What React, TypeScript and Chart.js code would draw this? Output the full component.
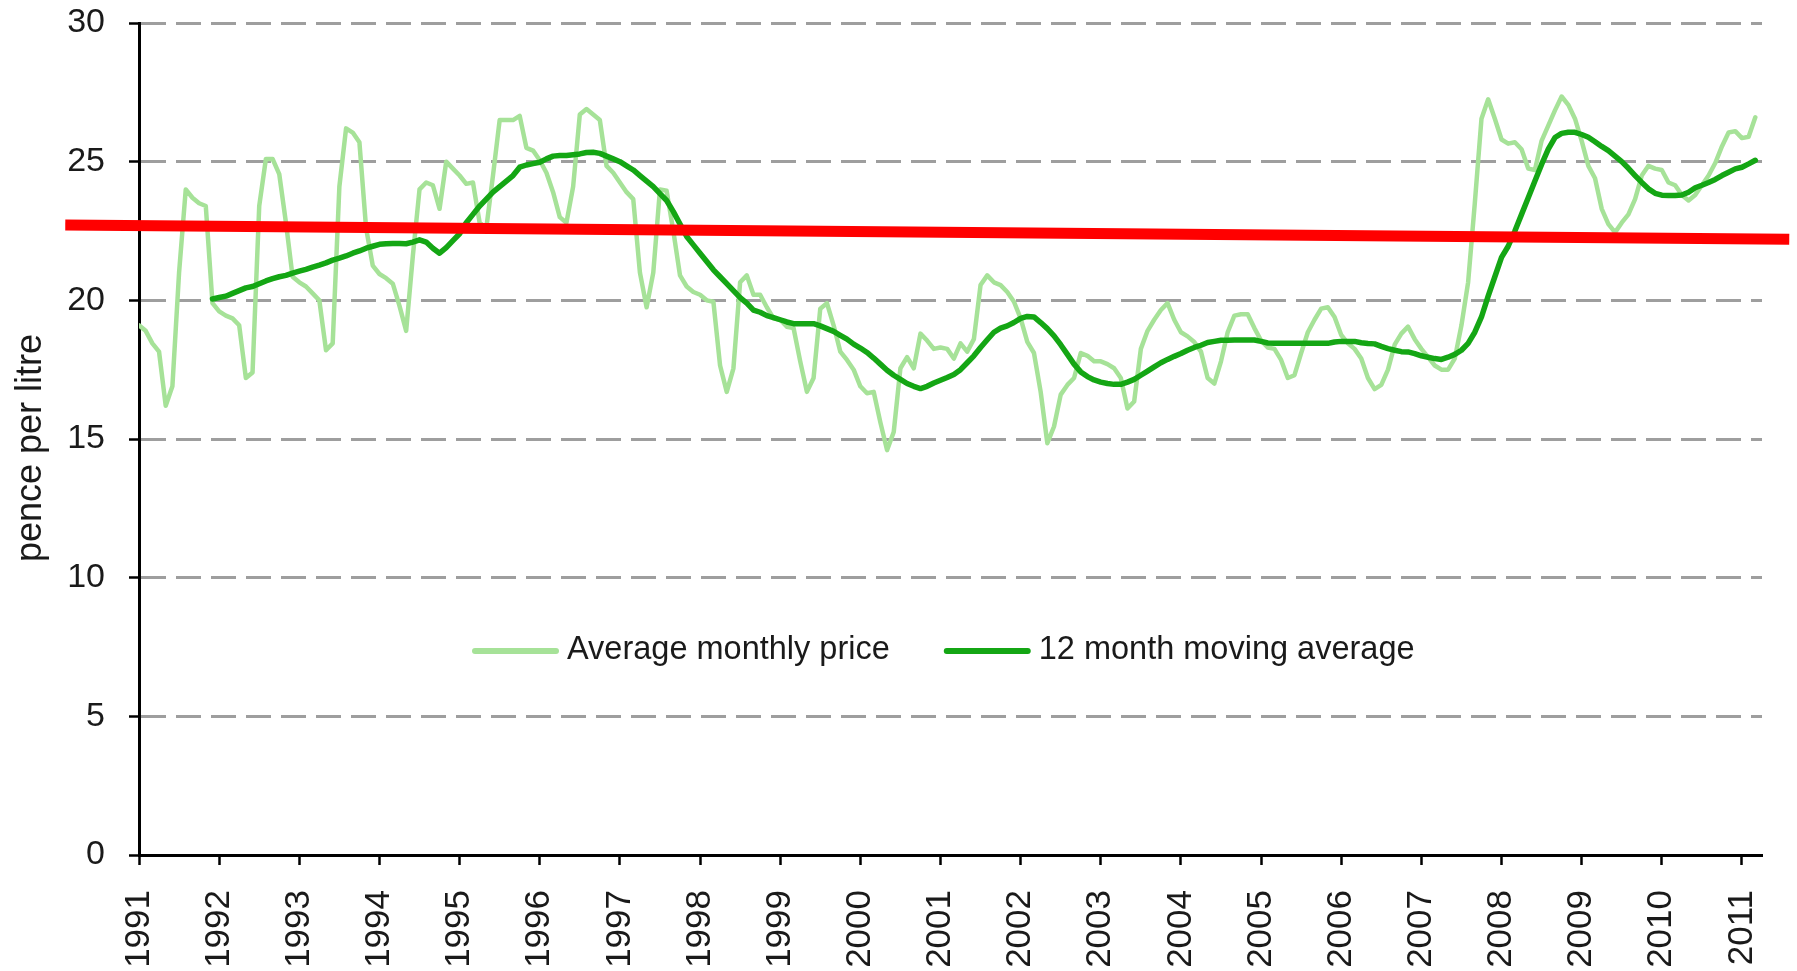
import { useEffect, useRef } from 'react';
import { Chart, registerables } from 'chart.js';

Chart.register(...registerables);

// ---- data ----
const START_YEAR = 1991; // first monthly point = Jan 1991
const X_MIN = 1991;
const X_MAX = 2011.25;

// Average monthly price, pence per litre, Jan 1991 .. Mar 2011
const monthlyPrice = [
  19.1, 18.9, 18.45, 18.15, 16.2, 16.9, 21.0, 24.0, 23.7, 23.5, 23.4, 19.9, // 1991
  19.6, 19.45, 19.35, 19.1, 17.2, 17.4, 23.4, 25.1, 25.1, 24.55, 22.8, 20.85, // 1992
  20.65, 20.5, 20.25, 20.0, 18.2, 18.45, 24.1, 26.2, 26.05, 25.7, 22.6, 21.25, // 1993
  20.95, 20.8, 20.6, 19.8, 18.9, 21.6, 24.0, 24.25, 24.15, 23.3, 25.0, 24.75, // 1994
  24.5, 24.2, 24.25, 22.8, 22.6, 24.5, 26.5, 26.5, 26.5, 26.65, 25.5, 25.4, // 1995
  25.05, 24.6, 23.9, 23.0, 22.8, 24.1, 26.7, 26.9, 26.7, 26.5, 24.85, 24.6, // 1996
  24.25, 23.9, 23.65, 21.0, 19.75, 21.0, 24.0, 23.95, 22.5, 20.9, 20.5, 20.3, // 1997
  20.2, 20.0, 19.95, 17.65, 16.7, 17.55, 20.65, 20.9, 20.2, 20.2, 19.75, 19.35, // 1998
  19.3, 19.05, 19.0, 17.8, 16.7, 17.2, 19.7, 19.9, 19.1, 18.15, 17.85, 17.5, // 1999
  16.9, 16.65, 16.7, 15.6, 14.6, 15.25, 17.55, 17.95, 17.55, 18.8, 18.55, 18.25, // 2000
  18.3, 18.25, 17.9, 18.45, 18.15, 18.6, 20.55, 20.9, 20.65, 20.55, 20.3, 19.95, // 2001
  19.35, 18.5, 18.1, 16.7, 14.85, 15.45, 16.6, 16.95, 17.2, 18.1, 18.0, 17.8, // 2002
  17.8, 17.7, 17.55, 17.2, 16.1, 16.35, 18.25, 18.9, 19.3, 19.65, 19.9, 19.3, // 2003
  18.85, 18.7, 18.5, 18.15, 17.2, 17.0, 17.8, 18.85, 19.45, 19.5, 19.5, 19.0, // 2004
  18.55, 18.3, 18.25, 17.85, 17.2, 17.3, 18.1, 18.85, 19.3, 19.7, 19.75, 19.4, // 2005
  18.75, 18.45, 18.25, 17.9, 17.2, 16.8, 16.95, 17.5, 18.4, 18.8, 19.05, 18.6, // 2006
  18.25, 17.95, 17.65, 17.5, 17.5, 17.9, 19.1, 20.65, 23.5, 26.55, 27.25, 26.55, // 2007
  25.8, 25.65, 25.7, 25.45, 24.75, 24.7, 25.75, 26.3, 26.85, 27.35, 27.05, 26.55, // 2008
  25.75, 24.85, 24.4, 23.3, 22.75, 22.45, 22.8, 23.1, 23.65, 24.5, 24.85, 24.75, // 2009
  24.7, 24.25, 24.15, 23.8, 23.6, 23.8, 24.15, 24.5, 24.95, 25.55, 26.05, 26.1, // 2010
  25.85, 25.9, 26.6, // 2011
];

// 12 month moving average, starts Dec 1991 (month index 11)
const MOVING_AVERAGE_START = 11;
const movingAverage = [
  20.05, // Dec 1991
  20.1, 20.15, 20.25, 20.35, 20.45, 20.5, 20.6, 20.7, 20.78, 20.85, 20.9, 20.98, // 1992
  21.05, 21.12, 21.2, 21.27, 21.35, 21.45, 21.52, 21.6, 21.7, 21.78, 21.88, 21.95, // 1993
  22.02, 22.04, 22.05, 22.05, 22.04, 22.1, 22.18, 22.1, 21.88, 21.7, 21.9, 22.15, // 1994
  22.4, 22.8, 23.1, 23.4, 23.65, 23.9, 24.1, 24.3, 24.5, 24.8, 24.88, 24.93, // 1995
  24.98, 25.1, 25.2, 25.22, 25.22, 25.25, 25.28, 25.33, 25.34, 25.3, 25.2, 25.1, // 1996
  25.0, 24.85, 24.7, 24.5, 24.3, 24.1, 23.85, 23.6, 23.2, 22.75, 22.3, 22.0, // 1997
  21.7, 21.4, 21.1, 20.85, 20.6, 20.35, 20.1, 19.9, 19.65, 19.57, 19.45, 19.38, // 1998
  19.3, 19.22, 19.16, 19.16, 19.16, 19.16, 19.08, 18.98, 18.88, 18.74, 18.6, 18.42, // 1999
  18.28, 18.12, 17.92, 17.7, 17.48, 17.3, 17.15, 17.0, 16.9, 16.82, 16.9, 17.02, // 2000
  17.12, 17.22, 17.33, 17.5, 17.75, 18.0, 18.3, 18.58, 18.85, 19.0, 19.08, 19.2, // 2001
  19.35, 19.42, 19.4, 19.2, 18.98, 18.72, 18.4, 18.05, 17.7, 17.42, 17.25, 17.13, // 2002
  17.05, 17.0, 16.97, 16.97, 17.05, 17.15, 17.3, 17.45, 17.6, 17.75, 17.87, 17.98, // 2003
  18.08, 18.2, 18.3, 18.38, 18.48, 18.52, 18.56, 18.56, 18.57, 18.57, 18.57, 18.57, // 2004
  18.52, 18.46, 18.45, 18.45, 18.45, 18.45, 18.45, 18.45, 18.45, 18.45, 18.45, 18.5, // 2005
  18.52, 18.52, 18.52, 18.47, 18.44, 18.43, 18.34, 18.26, 18.2, 18.15, 18.14, 18.08, // 2006
  18.0, 17.95, 17.9, 17.87, 17.95, 18.05, 18.2, 18.45, 18.85, 19.4, 20.15, 20.85, // 2007
  21.55, 21.95, 22.5, 23.1, 23.7, 24.3, 24.9, 25.45, 25.87, 26.02, 26.06, 26.06, // 2008
  25.98, 25.88, 25.72, 25.55, 25.4, 25.2, 25.0, 24.76, 24.5, 24.25, 24.02, 23.86, // 2009
  23.79, 23.78, 23.78, 23.8, 23.9, 24.06, 24.15, 24.25, 24.36, 24.5, 24.62, 24.74, // 2010
  24.8, 24.92, 25.05, // 2011
];

// red trend line end points (decimal year, pence per litre)
const trendX = [1990.08, 2011.59];
const trendY = [22.72, 22.2];

const seriesLabels = ['Average monthly price', '12 month moving average'];
const yAxisTitle = 'pence per litre';

// ---- styles ----
const LIGHT = '#a6e298';
const DARK = '#14a614';
const RED = '#ff0000';
const GRID = '#9e9e9e';
const FONT = '"Liberation Sans", Arial, sans-serif';
const TEXT = '#1a1a1a';

const monthX = (i: number) => START_YEAR + i / 12;

const legendPlugin = {
  id: 'inlineLegend',
  afterDraw(chart: any) {
    const ctx = chart.ctx as CanvasRenderingContext2D;
    ctx.save();
    ctx.font = `32.5px ${FONT}`;
    ctx.textBaseline = 'middle';
    ctx.fillStyle = TEXT;
    const y = 651;
    let x = 475;
    const colors = [LIGHT, DARK];
    seriesLabels.forEach((label, i) => {
      ctx.strokeStyle = colors[i];
      ctx.lineWidth = 6;
      ctx.lineCap = 'round';
      ctx.beginPath();
      ctx.moveTo(x, y);
      ctx.lineTo(x + 81, y);
      ctx.stroke();
      ctx.fillText(label, x + 92, y - 1);
      x += 92 + ctx.measureText(label).width + 57;
    });
    ctx.restore();
  },
};

export default function App() {
  const canvasRef = useRef<HTMLCanvasElement | null>(null);

  useEffect(() => {
    const canvas = canvasRef.current;
    if (!canvas) return;

    const priceData = monthlyPrice.map((v, i) => ({ x: monthX(i), y: v }));
    const maData = movingAverage.map((v, i) => ({ x: monthX(i + MOVING_AVERAGE_START), y: v }));
    const trendData = trendX.map((x, i) => ({ x, y: trendY[i] }));

    const chart = new Chart(canvas, {
      type: 'line',
      data: {
        datasets: [
          {
            label: 'trend',
            data: trendData,
            borderColor: RED,
            borderWidth: 11,
            borderCapStyle: 'butt',
            pointRadius: 0,
            clip: false as any,
          },
          {
            label: seriesLabels[1],
            data: maData,
            borderColor: DARK,
            borderWidth: 5.5,
            borderJoinStyle: 'round',
            borderCapStyle: 'round',
            pointRadius: 0,
            tension: 0,
          },
          {
            label: seriesLabels[0],
            data: priceData,
            borderColor: LIGHT,
            borderWidth: 4.5,
            borderJoinStyle: 'round',
            borderCapStyle: 'round',
            pointRadius: 0,
            tension: 0,
          },
        ],
      },
      options: {
        responsive: false,
        animation: false,
        devicePixelRatio: 1,
        layout: { padding: { top: 23, right: 35, bottom: 0, left: 0 } },
        plugins: {
          legend: { display: false },
          tooltip: { enabled: false },
        },
        scales: {
          x: {
            type: 'linear',
            min: X_MIN,
            max: X_MAX,
            afterFit: (s: any) => {
              s.height = 116;
              s.paddingLeft = 0;
              s.paddingRight = 0;
            },
            ticks: {
              stepSize: 1,
              includeBounds: false,
              autoSkip: false,
              maxRotation: 90,
              minRotation: 90,
              padding: 25,
              color: TEXT,
              font: { family: FONT, size: 35 },
              callback: (v: any) => (Number.isInteger(v) ? String(v) : ''),
            },
            grid: {
              display: true,
              drawOnChartArea: false,
              drawTicks: true,
              tickLength: 10,
              tickColor: '#000',
              tickWidth: 2.5,
            },
            border: { display: true, color: '#000', width: 3 },
          },
          y: {
            min: 0,
            max: 30,
            afterFit: (s: any) => {
              s.width = 139;
              s.paddingTop = 0;
              s.paddingBottom = 0;
            },
            ticks: {
              stepSize: 5,
              padding: 24,
              color: TEXT,
              font: { family: FONT, size: 34 },
            },
            title: {
              display: true,
              text: yAxisTitle + '\u2002',
              color: TEXT,
              font: { family: FONT, size: 36 },
              padding: { top: 9, bottom: 0 },
            },
            grid: {
              color: (c: any) => (c.tick && c.tick.value === 0 ? 'rgba(0,0,0,0)' : GRID),
              lineWidth: 3,
              drawTicks: true,
              tickLength: 10,
              tickColor: '#000',
              tickWidth: 2.5,
              tickBorderDash: [],
            },
            border: { display: true, color: '#000', width: 3, dash: [25, 10] },
          },
        },
      },
      plugins: [legendPlugin],
    });

    return () => {
      chart.destroy();
    };
  }, []);

  return (
    <div style={{ position: 'fixed', left: 0, top: 0, width: 1797, height: 971, background: '#fff' }}>
      <canvas ref={canvasRef} width={1797} height={971} style={{ display: 'block' }} />
    </div>
  );
}
